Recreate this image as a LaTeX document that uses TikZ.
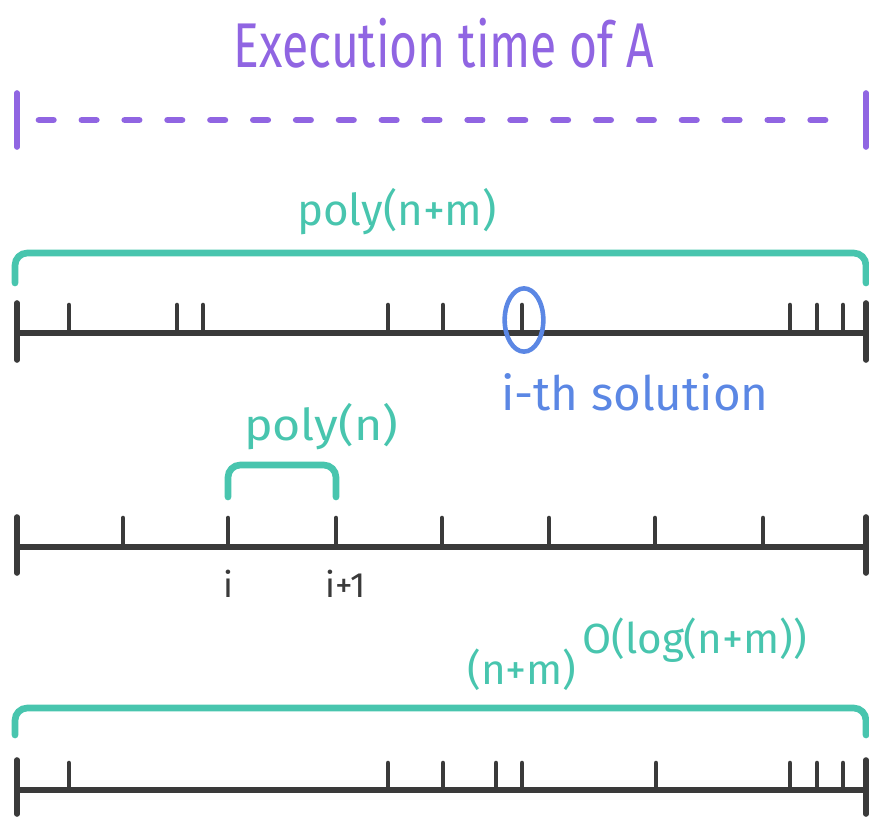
\documentclass[tikz,border=0pt]{standalone}
\usepackage{fontspec}
\setmainfont{Fira Sans}
\usepackage{graphicx}
\definecolor{exviolet}{HTML}{9065E2}
\definecolor{exteal}{HTML}{48C5AE}
\definecolor{exblue}{HTML}{5B87E4}
\definecolor{exink}{HTML}{3A3A3A}

\begin{document}
\begin{tikzpicture}[x=0.02cm,y=-0.02cm,
  hand/.style={anchor=base,inner sep=0pt,font=\fontsize{25}{30}\selectfont},
  small/.style={anchor=base,inner sep=0pt,font=\fontsize{20}{24}\selectfont,text=exink},
  axis/.style={line width=3.2pt,exink,line cap=round},
  tick/.style={line width=2.6pt,exink,line cap=round},
  brace/.style={line width=3.8pt,exteal,rounded corners=7pt,line cap=round},
  span/.style={line width=3.2pt,exviolet,line cap=round}]
  \useasboundingbox (0,0) rectangle (869,816);
  \node[hand,text=exviolet,font=\fontsize{36}{43}\selectfont] (title) at (444,67) {\scalebox{0.76}[1]{Execution time of A}};
  \draw[span] (17,93) -- (17,147);
  \draw[span] (866,93) -- (866,147);
  \draw[span,line width=3.8pt,dash pattern=on 8.2pt off 16.2pt] (39,120) -- (842,120);

  \node[hand,text=exteal] (polynm) at (397,225) {poly(n+m)};
  \draw[brace] (15,283) -- (15,253) -- (866,253) -- (866,283);
  \draw[axis] (17,333) -- (866,333);
  \draw[axis] (17,303) -- (17,360);
  \draw[axis] (866,303) -- (866,360);
  \foreach \x in {69,177,203,388,443,522,790,817,843}
    \draw[tick] (\x,333) -- (\x,305);
  \draw[exblue,line width=2.6pt] (524,320) ellipse [x radius=11pt,y radius=18pt];
  \node[hand,text=exblue,font=\fontsize{27}{32}\selectfont] (ith) at (635,410) {i-th solution};

  \node[hand,text=exteal] (polyn) at (321,440) {\scalebox{1.1}[1]{poly(n)}};
  \draw[brace] (228,497) -- (228,465) -- (336,465) -- (336,497);
  \draw[axis] (17,547) -- (866,547);
  \draw[axis] (17,517) -- (17,573);
  \draw[axis] (866,517) -- (866,573);
  \foreach \x in {123,228,336,442,549,655,763}
    \draw[tick] (\x,547) -- (\x,518);
  \node[small] (i) at (228,597) {i};
  \node[small] (inext) at (346,597) {i+1};

  \node[hand,text=exteal,font=\fontsize{24}{29}\selectfont] (pow) at (522,684) {(n+m)};
  \node[hand,text=exteal,font=\fontsize{24}{29}\selectfont,anchor=base west] (expo) at (582,653) {O(log(n+m))};
  \draw[brace] (15,735) -- (15,708) -- (866,708) -- (866,735);
  \draw[axis] (17,790) -- (866,790);
  \draw[axis] (17,760) -- (17,814);
  \draw[axis] (866,760) -- (866,814);
  \foreach \x in {69,388,443,496,522,656,790,817,843}
    \draw[tick] (\x,790) -- (\x,763);
\end{tikzpicture}
\end{document}
